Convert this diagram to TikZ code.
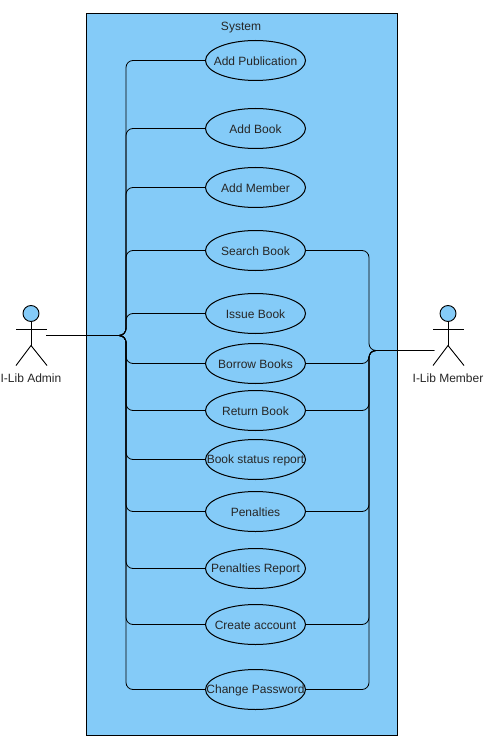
\documentclass[tikz,border=0pt]{standalone}
\usepackage{fontspec}
\setmainfont{Liberation Sans}
\usepackage{xcolor}
\usetikzlibrary{shapes.geometric}
\definecolor{sysblue}{HTML}{84CBF8}
\tikzset{
  usecase/.style={draw,ellipse,line width=1pt,inner sep=0pt,minimum width=100pt,minimum height=40pt},
  link/.style={draw,line width=.8pt,rounded corners=7pt},
  stick/.style={line width=.9pt},
  head/.style={draw,circle,fill=sysblue,line width=.9pt,inner sep=0pt,minimum size=16pt},
  every node/.append style={font=\fontsize{12}{14}\selectfont,text=black!85}
}

\begin{document}
\begin{tikzpicture}[x=1pt,y=-1pt]
\useasboundingbox (0,0) rectangle (492,743);

%system box
\draw [fill=sysblue,line width=1pt] (86,13.5) rectangle (397,735);
\node (system) at (241,28) {System};

%use cases
\foreach \ucname/\ypos/\uctext in {pub/60.5/Add Publication,book/128.5/Add Book,member/187.5/Add Member,search/250.5/Search Book,issue/313.5/Issue Book,borrow/363.5/Borrow Books,return/410.5/Return Book,status/459.5/Book status report,penalties/511.5/Penalties,report/568.5/Penalties Report,account/624.5/Create account,password/689.5/Change Password}
  \node [usecase,label={[yshift=-.5pt]center:\uctext}] (\ucname) at (255.5,\ypos) {};

\coordinate (adminport) at (46,335.5);
\coordinate (adminbus) at (126,335.5);
\coordinate (memberport) at (434,350.5);
\coordinate (memberbus) at (369,350.5);

%admin links
\foreach \ucname in {pub,book,member,search,issue,borrow,return,status,penalties,report,account,password}
  \draw [link] (\ucname.west) -| (adminbus) -- (adminport);

%member links
\foreach \ucname in {search,borrow,return,penalties,account,password}
  \draw [link] (\ucname.east) -| (memberbus) -- (memberport);

%admin actor
\begin{scope}[shift={(31,0.5)}]
\node [head] (adminhead) at (0,313) {};
\draw [stick] (adminhead) -- (0,345);
\draw [stick] (-15,329) -- (16,329);
\draw [stick] (-15,365) -- (0,345) -- (16,365);
\node (adminlabel) at (0,378) {I-Lib Admin};
\end{scope}

%member actor
\begin{scope}[shift={(448,0.5)}]
\node [head] (memberhead) at (0,313) {};
\draw [stick] (memberhead) -- (0,345);
\draw [stick] (-15,329) -- (16,329);
\draw [stick] (-15,365) -- (0,345) -- (16,365);
\node (memberlabel) at (0,378) {I-Lib Member};
\end{scope}

\end{tikzpicture}
\end{document}
